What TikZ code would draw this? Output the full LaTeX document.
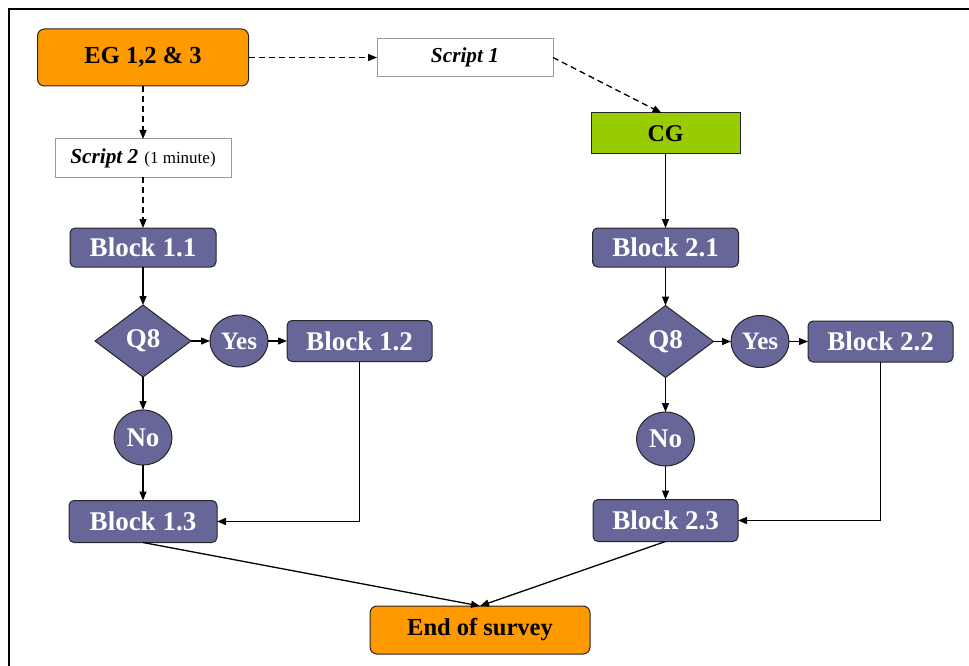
\documentclass[tikz,border=0pt]{standalone}
\usepackage{fontspec}
\setmainfont{Liberation Serif}
\usetikzlibrary{arrows.meta,shapes.geometric}
\definecolor{egorange}{HTML}{FF9900}
\definecolor{cggreen}{HTML}{99CC00}
\definecolor{blockpurple}{HTML}{666699}
\tikzset{
  base/.style={inner sep=0pt, outer sep=0pt, line width=1pt, align=center},
  orangebox/.style={base, rounded corners=7pt, fill=egorange, draw=black!85, font=\fontsize{24.5}{28}\selectfont\bfseries},
  greenbox/.style={base, fill=cggreen, draw=black!85, font=\fontsize{24}{28}\selectfont\bfseries},
  scriptbox/.style={base, fill=white, draw=black!40},
  blockbox/.style={base, rounded corners=5pt, fill=blockpurple, draw=black!85, text=white, font=\fontsize{27}{30}\selectfont\bfseries, minimum width=146pt},
  qdia/.style={base, diamond, aspect=1.333, fill=blockpurple, draw=black!85, text=white, font=\fontsize{27}{30}\selectfont\bfseries, minimum width=96pt, minimum height=72pt},
  ansell/.style={base, ellipse, fill=blockpurple, draw=black!85, text=white, font=\fontsize{25}{30}\selectfont\bfseries, minimum width=58pt},
  conn/.style={line width=1.3pt, -{Triangle[length=9pt,width=7pt]}},
  dconn/.style={conn, dash pattern=on 6pt off 4pt},
}
\begin{document}
\begin{tikzpicture}[x=1pt,y=-1pt]
\useasboundingbox (0,0) rectangle (969,666);
% frame
\draw[line width=2pt] (9,670) -- (9,9) -- (975,9);
% nodes
\node[orangebox, minimum width=211pt, minimum height=57pt] (eg) at (143,57.5) {EG 1,2 \& 3};
\node[scriptbox, minimum width=176pt, minimum height=38pt, font=\fontsize{21.3}{24}\selectfont\bfseries\itshape] (s1) at (465,57.5) {Script 1};
\node[scriptbox, minimum width=176pt, minimum height=38pt] (s2) at (143,158) {{\fontsize{21.3}{24}\selectfont\bfseries\itshape Script 2}\hspace{6pt}{\fontsize{17}{20}\selectfont (1 minute)}};
\node[greenbox, minimum width=149pt, minimum height=41pt] (cg) at (665.5,133.5) {CG};
\node[blockbox, minimum height=39pt] (b11) at (143,247.5) {Block 1.1};
\node[blockbox, minimum height=39pt] (b21) at (665.5,247.5) {Block 2.1};
\node[qdia] (q1) at (143,341) {Q8};
\node[qdia] (q2) at (665.5,341.5) {Q8};
\node[ansell, minimum height=52pt] (y1) at (239,341) {Yes};
\node[ansell, minimum height=52pt] (y2) at (760,341.5) {Yes};
\node[blockbox, minimum width=145pt, minimum height=41pt] (b12) at (359.5,341) {Block 1.2};
\node[blockbox, minimum width=145pt, minimum height=41pt] (b22) at (880.5,341.5) {Block 2.2};
\node[ansell, minimum height=55pt, font=\fontsize{27}{30}\selectfont\bfseries] (n1) at (143,437.5) {No};
\node[ansell, minimum height=54pt, font=\fontsize{27}{30}\selectfont\bfseries] (n2) at (665.5,439) {No};
\node[blockbox, minimum width=148pt, minimum height=42pt] (b13) at (143,521.5) {Block 1.3};
\node[blockbox, minimum width=145pt, minimum height=42pt] (b23) at (665.5,520.5) {Block 2.3};
\node[orangebox, minimum width=220pt, minimum height=48pt] (end) at (480,630) {End of survey};
% connectors
\draw[dconn] (eg.east) -- (s1.west);
\draw[dconn] (s1.east) -- ([xshift=-4pt]cg.north);
\draw[dconn] (eg.south) -- (s2.north);
\draw[dconn] (s2.south) -- (b11.north);
\draw[conn] (cg.south) -- (b21.north);
\draw[conn] (b11.south) -- (q1.north);
\draw[conn] (b21.south) -- (q2.north);
\draw[conn] (q1.east) -- (y1.west);
\draw[conn] (q2.east) -- (y2.west);
\draw[conn] (y1.east) -- (b12.west);
\draw[conn] (y2.east) -- (b22.west);
\draw[conn] (q1.south) -- (n1.north);
\draw[conn] (q2.south) -- (n2.north);
\draw[conn] (n1.south) -- (b13.north);
\draw[conn] (n2.south) -- (b23.north);
\draw[conn] (b12.south) |- (b13.east);
\draw[conn] (b22.south) |- (b23.east);
\draw[conn] (b13.south) -- (end.north);
\draw[conn] (b23.south) -- (end.north);
\end{tikzpicture}
\end{document}
